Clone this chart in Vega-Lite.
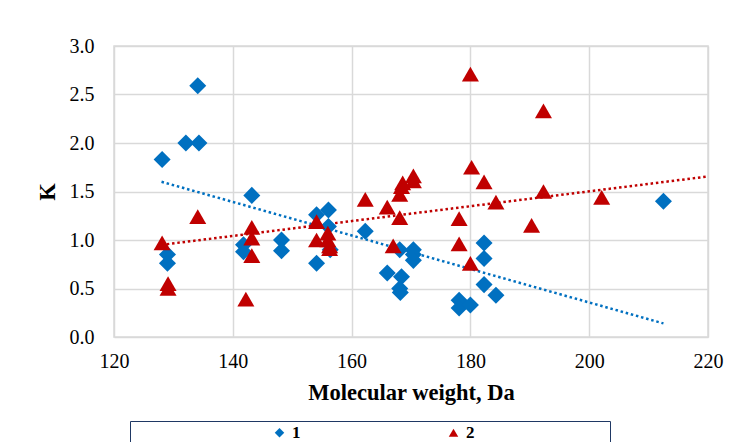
{
  "$schema": "https://vega.github.io/schema/vega-lite/v6.json",
  "width": 594,
  "height": 291,
  "autosize": "none",
  "padding": {"left": 114, "top": 46, "right": 27, "bottom": 105},
  "background": "white",
  "config": {
    "font": "Liberation Serif",
    "view": {"stroke": "#d9d9d9", "strokeWidth": 1.5},
    "axis": {
      "labelFont": "Liberation Serif",
      "titleFont": "Liberation Serif",
      "labelFontSize": 20,
      "titleFontSize": 22.5,
      "labelColor": "#000000",
      "titleColor": "#000000",
      "gridColor": "#d9d9d9",
      "gridWidth": 1.5,
      "domain": false,
      "ticks": false
    }
  },
  "datasets": {
    "points": [
      {"series": "1", "mw": 134.1, "k": 2.59},
      {"series": "1", "mw": 132.1, "k": 2.00},
      {"series": "1", "mw": 134.3, "k": 2.00},
      {"series": "1", "mw": 128.1, "k": 1.83},
      {"series": "1", "mw": 143.2, "k": 1.46},
      {"series": "1", "mw": 129.0, "k": 0.85},
      {"series": "1", "mw": 129.0, "k": 0.76},
      {"series": "1", "mw": 141.8, "k": 0.95},
      {"series": "1", "mw": 141.8, "k": 0.88},
      {"series": "1", "mw": 148.2, "k": 1.00},
      {"series": "1", "mw": 148.2, "k": 0.89},
      {"series": "1", "mw": 154.1, "k": 1.26},
      {"series": "1", "mw": 154.1, "k": 0.76},
      {"series": "1", "mw": 156.1, "k": 1.31},
      {"series": "1", "mw": 156.1, "k": 1.14},
      {"series": "1", "mw": 156.4, "k": 0.90},
      {"series": "1", "mw": 162.3, "k": 1.09},
      {"series": "1", "mw": 166.0, "k": 0.66},
      {"series": "1", "mw": 168.1, "k": 0.90},
      {"series": "1", "mw": 168.4, "k": 0.62},
      {"series": "1", "mw": 168.1, "k": 0.50},
      {"series": "1", "mw": 168.2, "k": 0.46},
      {"series": "1", "mw": 170.4, "k": 0.90},
      {"series": "1", "mw": 170.4, "k": 0.85},
      {"series": "1", "mw": 170.4, "k": 0.79},
      {"series": "1", "mw": 178.1, "k": 0.38},
      {"series": "1", "mw": 178.1, "k": 0.30},
      {"series": "1", "mw": 180.0, "k": 0.33},
      {"series": "1", "mw": 182.3, "k": 0.97},
      {"series": "1", "mw": 182.3, "k": 0.81},
      {"series": "1", "mw": 182.3, "k": 0.54},
      {"series": "1", "mw": 184.3, "k": 0.43},
      {"series": "1", "mw": 212.5, "k": 1.40},
      {"series": "2", "mw": 128.1, "k": 0.97},
      {"series": "2", "mw": 134.1, "k": 1.24},
      {"series": "2", "mw": 129.1, "k": 0.55},
      {"series": "2", "mw": 129.1, "k": 0.50},
      {"series": "2", "mw": 142.2, "k": 0.39},
      {"series": "2", "mw": 143.2, "k": 1.13},
      {"series": "2", "mw": 143.2, "k": 1.02},
      {"series": "2", "mw": 143.2, "k": 0.84},
      {"series": "2", "mw": 154.1, "k": 1.19},
      {"series": "2", "mw": 154.1, "k": 1.00},
      {"series": "2", "mw": 156.0, "k": 1.07},
      {"series": "2", "mw": 156.0, "k": 1.00},
      {"series": "2", "mw": 156.3, "k": 0.94},
      {"series": "2", "mw": 156.3, "k": 0.91},
      {"series": "2", "mw": 162.3, "k": 1.42},
      {"series": "2", "mw": 166.0, "k": 1.34},
      {"series": "2", "mw": 167.0, "k": 0.94},
      {"series": "2", "mw": 168.1, "k": 1.23},
      {"series": "2", "mw": 168.1, "k": 1.47},
      {"series": "2", "mw": 168.4, "k": 1.55},
      {"series": "2", "mw": 168.6, "k": 1.59},
      {"series": "2", "mw": 170.4, "k": 1.66},
      {"series": "2", "mw": 170.4, "k": 1.61},
      {"series": "2", "mw": 178.1, "k": 1.22},
      {"series": "2", "mw": 178.1, "k": 0.96},
      {"series": "2", "mw": 180.0, "k": 0.76},
      {"series": "2", "mw": 180.0, "k": 2.71},
      {"series": "2", "mw": 180.2, "k": 1.75},
      {"series": "2", "mw": 182.3, "k": 1.60},
      {"series": "2", "mw": 184.3, "k": 1.39},
      {"series": "2", "mw": 190.3, "k": 1.15},
      {"series": "2", "mw": 192.3, "k": 2.33},
      {"series": "2", "mw": 192.3, "k": 1.50},
      {"series": "2", "mw": 202.1, "k": 1.44}
    ],
    "trends": [
      {"series": "1", "mw": 128.0, "k": 1.60},
      {"series": "1", "mw": 212.5, "k": 0.14},
      {"series": "2", "mw": 128.0, "k": 0.95},
      {"series": "2", "mw": 220.0, "k": 1.655}
    ]
  },
  "layer": [
    {
      "data": {"name": "trends"},
      "transform": [{"filter": "datum.series == '1'"}],
      "mark": {"type": "line", "color": "#0070C0", "strokeWidth": 2.5, "strokeDash": [2.5, 2.8], "strokeCap": "butt"},
      "encoding": {
        "x": {"field": "mw", "type": "quantitative", "scale": {"domain": [120, 220], "nice": false}, "axis": {"values": [120, 140, 160, 180, 200, 220], "title": "Molecular weight, Da", "titleFontWeight": "bold", "labelPadding": 14, "titlePadding": 10, "labelFlush": false}},
        "y": {"field": "k", "type": "quantitative", "scale": {"domain": [0, 3], "nice": false}, "axis": {"values": [0, 0.5, 1, 1.5, 2, 2.5, 3], "format": ".1f", "title": "K", "titleFontWeight": "bold", "labelPadding": 20, "titlePadding": 10}}
      }
    },
    {
      "data": {"name": "trends"},
      "transform": [{"filter": "datum.series == '2'"}],
      "mark": {"type": "line", "color": "#C00000", "strokeWidth": 2.5, "strokeDash": [2.5, 2.8], "strokeCap": "butt"},
      "encoding": {
        "x": {"field": "mw", "type": "quantitative"},
        "y": {"field": "k", "type": "quantitative"}
      }
    },
    {
      "data": {"name": "points"},
      "mark": {"type": "point", "filled": true, "opacity": 1, "size": 290},
      "encoding": {
        "x": {"field": "mw", "type": "quantitative"},
        "y": {"field": "k", "type": "quantitative"},
        "color": {"field": "series", "type": "nominal", "scale": {"domain": ["1", "2"], "range": ["#0070C0", "#C00000"]},
          "legend": {"title": null, "orient": "none", "legendX": 16, "legendY": 375, "direction": "horizontal",
            "strokeColor": "#1f3864", "padding": 3, "symbolOffset": 138, "symbolSize": 90, "columnPadding": 6,
            "labelFont": "Liberation Serif", "labelFontSize": 17, "labelFontWeight": "bold", "labelColor": "#000000", "labelLimit": 400,
            "labelExpr": "datum.label == '2' ? '2\u2800\u2800\u2800\u2800\u2800\u2800\u2800\u2800\u2800\u2800\u2800' : datum.label"}},
        "shape": {"field": "series", "type": "nominal", "scale": {"domain": ["1", "2"], "range": ["diamond", "triangle-up"]}},
        "order": {"field": "series", "type": "nominal"}
      }
    }
  ]
}
